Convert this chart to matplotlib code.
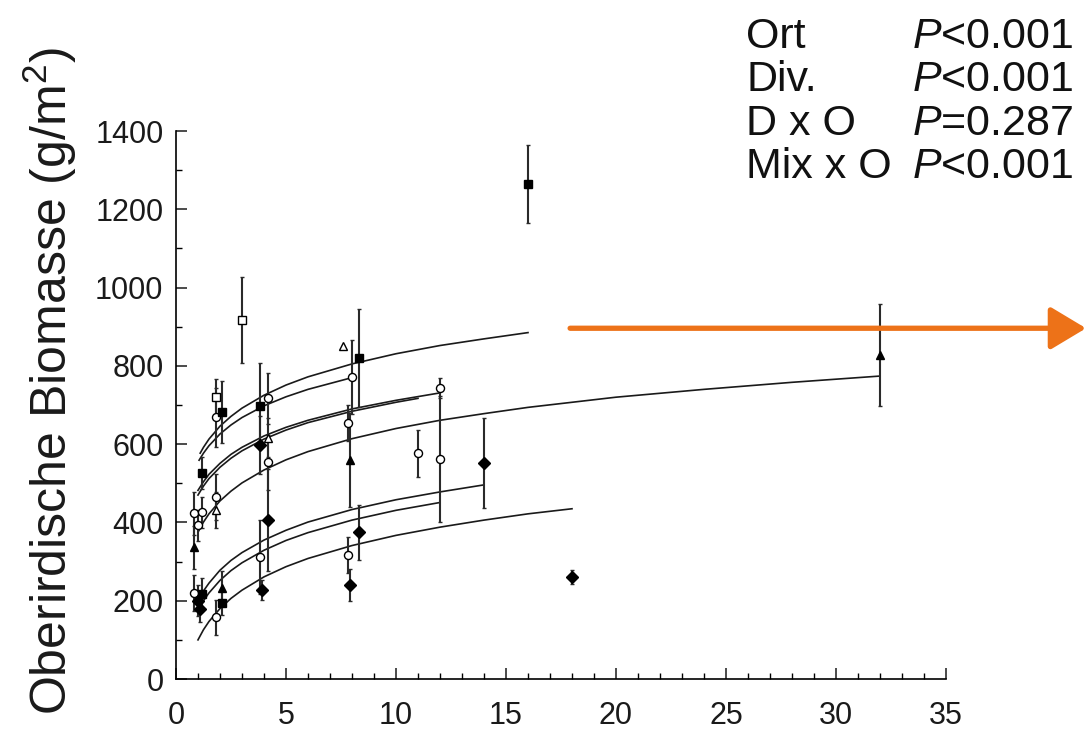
import matplotlib
matplotlib.use("Agg")
import matplotlib.pyplot as plt
from matplotlib.ticker import MultipleLocator
from matplotlib.patches import FancyArrowPatch

plt.rcParams['font.family'] = ['Liberation Sans', 'DejaVu Sans']
plt.rcParams['mathtext.fontset'] = 'custom'
plt.rcParams['mathtext.rm'] = 'Liberation Sans'
plt.rcParams['mathtext.it'] = 'Liberation Sans:italic'

# --- data ---
# points: x (number of species), biomass (g/m2), error
open_circle_x = [0.8, 0.8, 1.0, 1.2, 1.8, 1.8, 1.8, 3.8, 4.2, 4.2, 8.0, 7.8, 7.8, 11, 12, 12]
open_circle_y = [424, 220, 393, 426, 669, 465, 158, 312, 717, 554, 771, 654, 317, 577, 743, 562]
open_circle_e = [55, 45, 40, 40, 75, 60, 45, 95, 65, 70, 95, 45, 45, 60, 25, 160]

open_square_x = [1.8, 3.0]
open_square_y = [721, 917]
open_square_e = [45, 110]

filled_square_x = [1.2, 1.2, 2.1, 2.1, 3.8, 8.3, 16]
filled_square_y = [526, 218, 682, 194, 697, 820, 1264]
filled_square_e = [40, 40, 80, 30, 110, 125, 100]

open_tri_x = [1.8, 4.2, 7.6]
open_tri_y = [432, 616, 850]
open_tri_e = [45, 50, 0]

filled_tri_x = [0.8, 2.1, 7.9, 32]
filled_tri_y = [337, 232, 559, 828]
filled_tri_e = [55, 45, 120, 130]

diamond_x = [1.0, 1.1, 3.8, 3.9, 4.2, 8.3, 7.9, 14, 18]
diamond_y = [200, 180, 598, 227, 406, 375, 240, 552, 260]
diamond_e = [40, 35, 75, 25, 130, 70, 40, 115, 18]

# fitted curves, values
curve_a_x = [1.1, 1.25, 1.5, 2, 2.5, 3, 4, 5, 6, 8, 10, 12, 14, 16]
curve_a_y = [577, 592, 613, 646, 671, 692, 725, 751, 772, 805, 831, 852, 869, 885]
curve_b_x = [1.05, 1.25, 1.5, 2, 2.5, 3, 4, 5, 6, 8]
curve_b_y = [559, 577, 596, 626, 649, 668, 698, 721, 740, 770]
curve_c1_x = [1, 1.25, 1.5, 2, 2.5, 3, 4, 5, 6, 8, 10, 11]
curve_c1_y = [470, 493, 512, 541, 564, 583, 613, 636, 655, 684, 707, 717]
curve_c2_x = [1, 1.25, 1.5, 2, 2.5, 3, 4, 5, 6, 8, 10, 12]
curve_c2_y = [482, 504, 523, 551, 574, 592, 621, 643, 661, 690, 712, 731]
curve_d_x = [1, 1.25, 1.5, 2, 2.5, 3, 4, 5, 6, 8, 10, 12, 14, 16, 18, 20, 24, 28, 32]
curve_d_y = [375, 401, 422, 455, 480, 501, 534, 560, 581, 614, 640, 661, 678, 694, 707, 720, 740, 758, 774]
curve_l2_x = [1, 1.25, 1.5, 2, 2.5, 3, 4, 5, 6, 8, 10, 12, 14]
curve_l2_y = [200, 225, 245, 278, 303, 323, 355, 380, 401, 433, 458, 478, 496]
curve_l3_x = [1, 1.25, 1.5, 2, 2.5, 3, 4, 5, 6, 8, 10, 12]
curve_l3_y = [175, 200, 220, 252, 277, 297, 329, 354, 374, 406, 431, 451]
curve_l4_x = [1, 1.25, 1.5, 2, 2.5, 3, 4, 5, 6, 8, 10, 12, 14, 16, 18]
curve_l4_y = [100, 126, 147, 180, 206, 227, 261, 287, 308, 341, 367, 388, 406, 422, 435]

stat_names = ["Ort", "Div.", "D x O", "Mix x O"]
stat_values = [r"$\it{P}$<0.001", r"$\it{P}$<0.001", r"$\it{P}$=0.287", r"$\it{P}$<0.001"]

ylabel = r"Oberirdische Biomasse (g/m$^2$)"

fig = plt.figure(figsize=(10.91, 7.36), dpi=100)
ax = fig.add_axes([0.1613, 0.0774, 0.7058, 0.7446])

curves = [(curve_a_x, curve_a_y), (curve_b_x, curve_b_y), (curve_c1_x, curve_c1_y),
          (curve_c2_x, curve_c2_y), (curve_d_x, curve_d_y), (curve_l2_x, curve_l2_y),
          (curve_l3_x, curve_l3_y), (curve_l4_x, curve_l4_y)]
for cx, cy in curves:
    ax.plot(cx, cy, color='#1a1a1a', lw=1.2, zorder=2)

groups = [
    (open_circle_x, open_circle_y, open_circle_e, 'o', 'white'),
    (open_square_x, open_square_y, open_square_e, 's', 'white'),
    (filled_square_x, filled_square_y, filled_square_e, 's', 'black'),
    (open_tri_x, open_tri_y, open_tri_e, '^', 'white'),
    (filled_tri_x, filled_tri_y, filled_tri_e, '^', 'black'),
    (diamond_x, diamond_y, diamond_e, 'D', 'black'),
]
for gx, gy, ge, mk, fc in groups:
    ax.errorbar(gx, gy, yerr=ge, fmt=mk, ms=5.8, mfc=fc, mec='black', mew=1.0,
                ecolor='#2a2a2a', elinewidth=1.5, capsize=1.5, capthick=1.0, zorder=3)

ax.set_xlim(0, 35)
ax.set_ylim(0, 1400)
ax.xaxis.set_major_locator(MultipleLocator(5))
ax.xaxis.set_minor_locator(MultipleLocator(1))
ax.yaxis.set_major_locator(MultipleLocator(200))
ax.yaxis.set_minor_locator(MultipleLocator(100))
ax.spines['top'].set_visible(False)
ax.spines['right'].set_visible(False)
for s in ['left', 'bottom']:
    ax.spines[s].set_linewidth(1.2)
ax.tick_params(which='major', direction='in', length=8, width=1.1, labelsize=22,
               colors='#1a1a1a')
ax.tick_params(which='minor', direction='in', length=4, width=1.0)
ax.tick_params(axis='x', pad=16)
ax.tick_params(axis='y', pad=9)

fig.text(0.046, 0.482, ylabel, rotation=90, ha='center', va='center',
         fontsize=36, color='#1a1a1a')

row_y = [0.950, 0.891, 0.832, 0.773]
for name, val, yy in zip(stat_names, stat_values, row_y):
    fig.text(0.684, yy, name, fontsize=31, va='center', ha='left', color='#111111')
    fig.text(0.836, yy, val, fontsize=31, va='center', ha='left', color='#111111')

arrow = FancyArrowPatch((0.52, 0.554), (0.998, 0.554), transform=fig.transFigure,
                        arrowstyle='-|>,head_length=1.0,head_width=0.6',
                        mutation_scale=22, lw=3.8, color='#ED7218')
fig.patches.append(arrow)

fig.savefig("out.png", dpi=100)
